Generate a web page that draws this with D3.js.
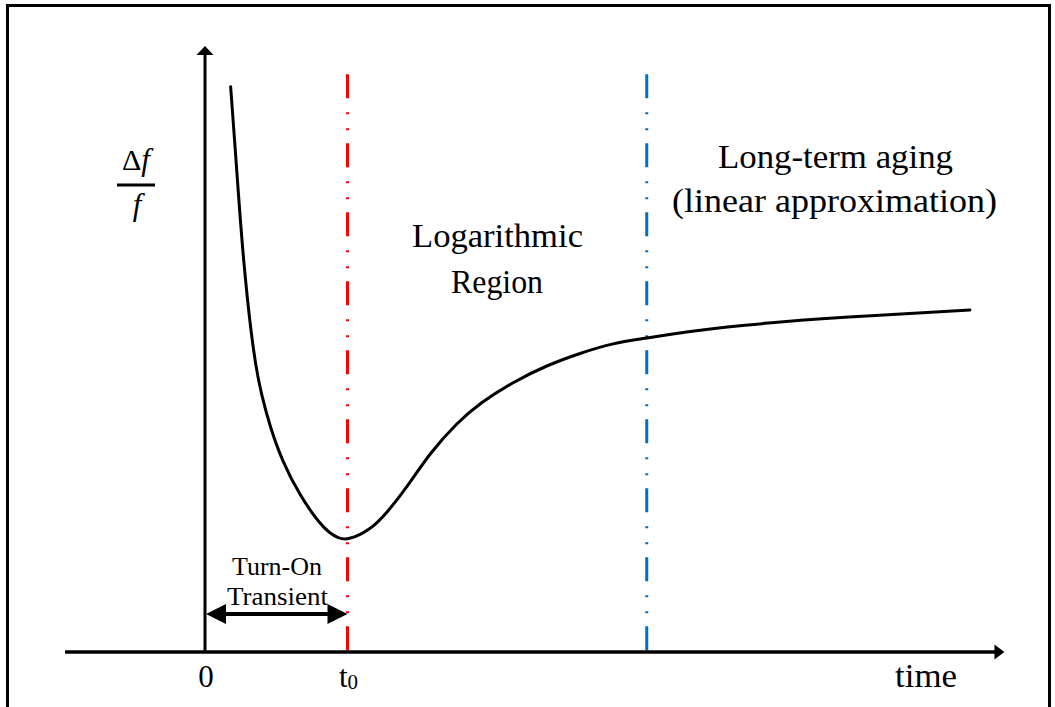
<!DOCTYPE html>
<html>
<head>
<meta charset="utf-8">
<script src="https://cdn.jsdelivr.net/npm/d3@7"></script>
<style>
  html, body { margin: 0; padding: 0; background: #fff; }
  svg { display: block; }
  text { font-family: "Liberation Serif", "DejaVu Serif", serif; fill: #000; }
</style>
</head>
<body>
<svg id="chart" width="1055" height="707"></svg>
<script>
// Frequency drift vs. time (time in units of t0, drift in arbitrary units)
const curveTime  = [0.180, 0.218, 0.267, 0.344, 0.400, 0.456, 0.540, 0.667, 0.807, 0.877, 0.933, 1.000,
                    1.158, 1.277, 1.418, 1.579, 1.768, 1.930, 2.161, 2.400, 2.632,
                    2.863, 3.102, 3.263, 3.754, 4.456, 5.368];
const curveDrift = [9.42, 8.20, 6.53, 4.87, 4.25, 3.76, 3.19, 2.60, 2.13, 1.98, 1.90, 1.86,
                    2.03, 2.32, 2.75, 3.32, 3.82, 4.15, 4.50, 4.78, 4.98,
                    5.15, 5.23, 5.30, 5.45, 5.58, 5.70];

// Region boundaries
const boundaryTimes  = [1.0, 3.1];
const boundaryColors = ["#FF0000", "#0070C0"];

// Axis tick labels
const tickTimes  = [0, 1.0];
const tickLabels = ["0", "t"];
const tickSubs   = ["", "0"];

const svg = d3.select("#chart");

const x = d3.scaleLinear().domain([0, 1]).range([205, 347.5]);
const y = d3.scaleLinear().domain([0, 10]).range([652, 52]);

// outer frame (open at the bottom)
svg.append("path")
  .attr("d", "M7.5,720 V5.5 H1049.5 V720")
  .attr("fill", "none").attr("stroke", "#000").attr("stroke-width", 3);

// boundary lines (dash-dot-dot)
svg.selectAll("line.boundary")
  .data(boundaryTimes)
  .join("line")
  .attr("class", "boundary")
  .attr("x1", d => x(d)).attr("x2", d => x(d))
  .attr("y1", y(9.63)).attr("y2", y(0))
  .attr("stroke", (d, i) => boundaryColors[i])
  .attr("stroke-width", 3)
  .attr("stroke-dasharray", "24,14,2,14,2,13");

// axes
const axisG = svg.append("g").attr("stroke", "#000").attr("fill", "#000");
axisG.append("line")
  .attr("x1", x(-0.982)).attr("x2", x(5.55))
  .attr("y1", y(0)).attr("y2", y(0))
  .attr("stroke-width", 3.5);
const xt = x(5.61), y0 = y(0);
axisG.append("path")
  .attr("stroke", "none")
  .attr("d", `M${xt},${y0} L${xt - 10},${y0 - 7.5} L${xt - 10},${y0 + 7.5} Z`);

axisG.append("line")
  .attr("x1", x(0)).attr("x2", x(0))
  .attr("y1", y(0) + 1).attr("y2", y(9.95))
  .attr("stroke-width", 3);
const yt = y(10.1), x0 = x(0);
axisG.append("path")
  .attr("stroke", "none")
  .attr("d", `M${x0},${yt} L${x0 - 8.5},${yt + 9} L${x0 + 8.5},${yt + 9} Z`);

// drift curve
const pts = curveTime.map((t, i) => [t, curveDrift[i]]);
svg.append("path")
  .datum(pts)
  .attr("fill", "none")
  .attr("stroke", "#000")
  .attr("stroke-width", 3)
  .attr("stroke-linecap", "round")
  .attr("d", d3.line().x(d => x(d[0])).y(d => y(d[1])).curve(d3.curveBasis));

// turn-on transient span arrow
const ay = 614;
const spanG = svg.append("g").attr("fill", "#000");
spanG.append("line")
  .attr("x1", x(0) + 15).attr("x2", x(1.0) - 15)
  .attr("y1", ay).attr("y2", ay)
  .attr("stroke", "#000").attr("stroke-width", 4);
spanG.append("path")
  .attr("d", `M${x(0) + 1},${ay} L${x(0) + 21},${ay - 10} L${x(0) + 21},${ay + 10} Z`);
spanG.append("path")
  .attr("d", `M${x(1.0)},${ay} L${x(1.0) - 20},${ay - 10} L${x(1.0) - 20},${ay + 10} Z`);

svg.append("text").attr("x", 277).attr("y", 575)
  .attr("text-anchor", "middle").attr("font-size", 25)
  .attr("textLength", 90).attr("lengthAdjust", "spacingAndGlyphs")
  .text("Turn-On");
svg.append("text").attr("x", 277.5).attr("y", 605)
  .attr("text-anchor", "middle").attr("font-size", 25)
  .attr("textLength", 101).attr("lengthAdjust", "spacingAndGlyphs")
  .text("Transient");

// tick labels
tickTimes.forEach((t, i) => {
  const tx = svg.append("text")
    .attr("x", x(t) + 1).attr("y", 687)
    .attr("text-anchor", "middle").attr("font-size", 31);
  tx.append("tspan").text(tickLabels[i]);
  if (tickSubs[i]) {
    tx.append("tspan").attr("font-size", 21).attr("dy", 2).text(tickSubs[i]);
  }
});

svg.append("text").attr("x", 926).attr("y", 687)
  .attr("text-anchor", "middle").attr("font-size", 33)
  .attr("textLength", 62).attr("lengthAdjust", "spacingAndGlyphs")
  .text("time");

// region annotations
const label = (txt, cx, by, w) => svg.append("text")
  .attr("x", cx).attr("y", by)
  .attr("text-anchor", "middle").attr("font-size", 33)
  .attr("textLength", w).attr("lengthAdjust", "spacingAndGlyphs")
  .text(txt);
label("Logarithmic", 497.5, 247, 171);
label("Region", 497, 293, 92);
label("Long-term aging", 835.5, 168, 235);
label("(linear approximation)", 834.5, 212, 325);

// y-axis label: Δf / f
const yl = svg.append("text").attr("x", 136).attr("y", 170)
  .attr("text-anchor", "middle").attr("font-size", 30);
yl.append("tspan").text("Δ");
yl.append("tspan").attr("font-style", "italic").attr("font-size", 31).text("f");
svg.append("line")
  .attr("x1", 117).attr("x2", 155).attr("y1", 185).attr("y2", 185)
  .attr("stroke", "#000").attr("stroke-width", 3);
svg.append("text").attr("x", 137).attr("y", 215)
  .attr("text-anchor", "middle").attr("font-size", 31)
  .attr("font-style", "italic").text("f");
</script>
</body>
</html>
